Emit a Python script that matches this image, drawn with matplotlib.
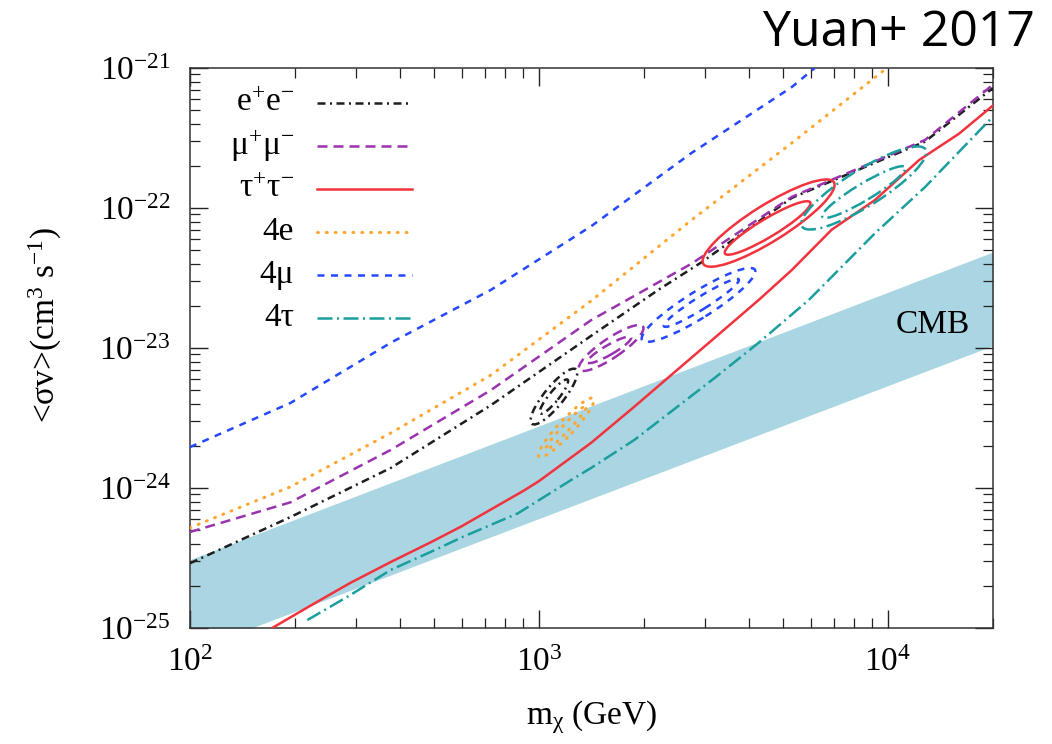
import numpy as np
import matplotlib
matplotlib.use("Agg")
import matplotlib.pyplot as plt
from matplotlib.patches import Ellipse
from matplotlib.transforms import Affine2D
from matplotlib.ticker import FixedLocator, LogFormatterMathtext, NullFormatter

plt.rcParams["font.family"] = "serif"
plt.rcParams["font.serif"] = ["Liberation Serif"]
plt.rcParams["mathtext.fontset"] = "custom"
plt.rcParams["mathtext.rm"] = "Liberation Serif"
plt.rcParams["mathtext.it"] = "Liberation Serif:italic"
plt.rcParams["mathtext.bf"] = "Liberation Serif:bold"
plt.rcParams["axes.unicode_minus"] = False

# upper limits / best-fit curves, mass in GeV, <sigma v> in cm^3 s^-1
ee_mass = [100, 194, 376, 728, 1410, 2197, 2925, 5300, 12770, 20000]
ee_sv = [2.9e-25, 6.2e-25, 1.39e-24, 3.9e-24, 1.22e-23, 2.6e-23, 4.1e-23, 1.18e-22, 2.98e-22, 7.2e-22]

mumu_mass = [100, 194, 376, 728, 1410, 2735, 5300, 12770, 20000]
mumu_sv = [4.85e-25, 7.9e-25, 1.87e-24, 5.0e-24, 1.58e-23, 4.0e-23, 1.2e-22, 3.06e-22, 7.6e-22]

tautau_mass = [172, 221, 288, 376, 490, 598, 906, 1000, 1410, 1874, 2443, 3185, 4260,
               5300, 6900, 9180, 12280, 16000, 20000]
tautau_sv = [1.0e-25, 1.44e-25, 2.1e-25, 2.96e-25, 4.1e-25, 5.3e-25, 9.6e-25, 1.12e-24, 2.1e-24,
             3.8e-24, 6.7e-24, 1.18e-23, 2.2e-23, 3.6e-23, 7.0e-23, 1.14e-22, 2.2e-22, 3.4e-22, 5.4e-22]

foure_mass = [100, 194, 376, 728, 1410, 2735, 5300, 9930]
foure_sv = [5.2e-25, 1.02e-24, 2.47e-24, 6.4e-24, 2.17e-23, 8.2e-23, 2.91e-22, 1.0e-21]

fourmu_mass = [100, 194, 376, 728, 1410, 2735, 5300, 6170]
fourmu_sv = [1.96e-24, 4.05e-24, 1.09e-23, 2.6e-23, 7.4e-23, 2.47e-22, 7.3e-22, 1.0e-21]

fourtau_mass = [217, 288, 376, 490, 608, 871, 1236, 1410, 1874, 3185, 4260, 5930,
                9180, 12770, 20000]
fourtau_sv = [1.14e-25, 1.72e-25, 2.6e-25, 3.5e-25, 4.5e-25, 6.6e-25, 1.14e-24, 1.39e-24,
              2.2e-24, 6.1e-24, 1.09e-23, 2.2e-23, 6.6e-23, 1.41e-22, 4.5e-22]

# CMB exclusion band
cmb_mass = [100, 20000]
cmb_low = [6.8e-26, 1.04e-23]
cmb_high = [3.08e-25, 4.85e-23]

# fit contours: centre, full axes (in decades of <sigma v>), tilt in degrees
ell_channel = ["ee", "ee", "mumu", "mumu", "tautau", "tautau",
               "4e", "4e", "4mu", "4mu", "4tau", "4tau"]
ell_mass = [1104, 1104, 1610, 1590, 4550, 4520, 1197, 1197, 2865, 2920, 8530, 8530]
ell_sv = [4.5e-24, 4.5e-24, 1.0e-23, 9.7e-24, 7.8e-23, 7.2e-23,
          2.7e-24, 2.7e-24, 2.03e-23, 2.1e-23, 1.39e-22, 1.30e-22]
ell_width = [0.50, 0.31, 0.55, 0.36, 1.10, 0.71, 0.57, 0.43, 0.95, 0.63, 1.04, 0.69]
ell_height = [0.14, 0.07, 0.14, 0.07, 0.26, 0.13, 0.11, 0.05, 0.19, 0.09, 0.26, 0.12]
ell_angle = [51, 51, 34, 30, 32, 31, 47, 47, 32, 32, 32, 31]

channels = ["ee", "mumu", "tautau", "4e", "4mu", "4tau"]
labels = ["e$^{+}$e$^{-}$", "μ$^{+}$μ$^{-}$", "τ$^{+}$τ$^{-}$", "4e", "4μ", "4τ"]
curves = {
    "ee": (ee_mass, ee_sv),
    "mumu": (mumu_mass, mumu_sv),
    "tautau": (tautau_mass, tautau_sv),
    "4e": (foure_mass, foure_sv),
    "4mu": (fourmu_mass, fourmu_sv),
    "4tau": (fourtau_mass, fourtau_sv),
}
colors = {"ee": "#1e1e1e", "mumu": "#9a33ae", "tautau": "#f2323c",
          "4e": "#ffa630", "4mu": "#2448ff", "4tau": "#1a9e9e"}
styles = {"ee": (0, (3.2, 1.8, 0.8, 1.8)),
          "mumu": (0, (4.0, 2.4)),
          "tautau": "-",
          "4e": (0, (0.3, 2.6)),
          "4mu": (0, (2.8, 2.6)),
          "4tau": (0, (6.0, 1.8, 0.8, 1.8))}
widths = {"ee": 1.8, "mumu": 1.8, "tautau": 1.8, "4e": 2.2, "4mu": 1.8, "4tau": 1.8}
caps = {"ee": "butt", "mumu": "butt", "tautau": "butt", "4e": "round", "4mu": "butt", "4tau": "butt"}

xmin, xmax = 1e2, 2e4
ymin, ymax = 1e-25, 1e-21
xmajor = [1e2, 1e3, 1e4]
ymajor = [1e-25, 1e-24, 1e-23, 1e-22, 1e-21]

fig = plt.figure(figsize=(10.52, 7.44), dpi=100)
ax = fig.add_axes([0.1806, 0.1559, 0.7633, 0.7527])
ax.set_xscale("log")
ax.set_yscale("log")
ax.set_xlim(xmin, xmax)
ax.set_ylim(ymin, ymax)

ax.fill_between(cmb_mass, cmb_low, cmb_high, color="#a9d6e2", lw=0, zorder=1)
ax.text(13400, 1.46e-23, "CMB", fontsize=24, ha="center", va="center", zorder=2)

for ch in channels:
    m, sv = curves[ch]
    ax.plot(m, sv, color=colors[ch], ls=styles[ch], lw=widths[ch],
            dash_capstyle=caps[ch], zorder=3)

# contours are drawn in (K*log10 m, log10 sv) so that both axes share one scale
bb = ax.get_position()
W, H = fig.get_size_inches() * fig.dpi
K = (bb.width * W / np.log10(xmax / xmin)) / (bb.height * H / np.log10(ymax / ymin))
tr = Affine2D().scale(1.0 / K, 1.0) + ax.transLimits + ax.transAxes
for ch, m, sv, w, h, a in zip(ell_channel, ell_mass, ell_sv, ell_width, ell_height, ell_angle):
    e = Ellipse((K * np.log10(m), np.log10(sv)), w, h, angle=a, transform=tr,
                fill=False, ec=colors[ch], ls=styles[ch], lw=widths[ch],
                capstyle=caps[ch], zorder=4)
    ax.add_patch(e)

# gnuplot-style key: label on the left, sample on the right
for i, (ch, lab) in enumerate(zip(channels, labels)):
    yk = 0.9375 - i * 0.0768
    ax.text(0.1295, yk, lab, transform=ax.transAxes, ha="right", va="center", fontsize=24)
    ax.plot([0.158, 0.2765], [yk, yk], transform=ax.transAxes, color=colors[ch],
            ls=styles[ch], lw=widths[ch], dash_capstyle=caps[ch], zorder=5)

ax.xaxis.set_major_locator(FixedLocator(xmajor))
ax.yaxis.set_major_locator(FixedLocator(ymajor))
ax.xaxis.set_major_formatter(LogFormatterMathtext())
ax.yaxis.set_major_formatter(LogFormatterMathtext())
ax.xaxis.set_minor_formatter(NullFormatter())
ax.yaxis.set_minor_formatter(NullFormatter())

ax.tick_params(which="both", direction="in", top=True, right=True, color="#222222")
ax.tick_params(which="major", length=13, width=1.0, labelsize=24)
ax.tick_params(which="minor", length=7, width=0.9)
ax.tick_params(axis="y", which="major", pad=14)
ax.tick_params(axis="x", which="major", pad=14)
for s in ax.spines.values():
    s.set_linewidth(1.1)
    s.set_color("#333333")

ax.set_xlabel("m$_{\\mathrm{χ}}$ (GeV)", fontsize=24)
ax.set_ylabel("<σv>(cm$^{3}$ s$^{-1}$)", fontsize=24)
ax.yaxis.set_label_coords(-0.157, 0.541)
ax.xaxis.set_label_coords(0.5, -0.125)

fig.text(0.984, 0.988, "Yuan+ 2017", ha="right", va="top", fontsize=36, family="Open Sans")

fig.savefig("out.png", dpi=100)
